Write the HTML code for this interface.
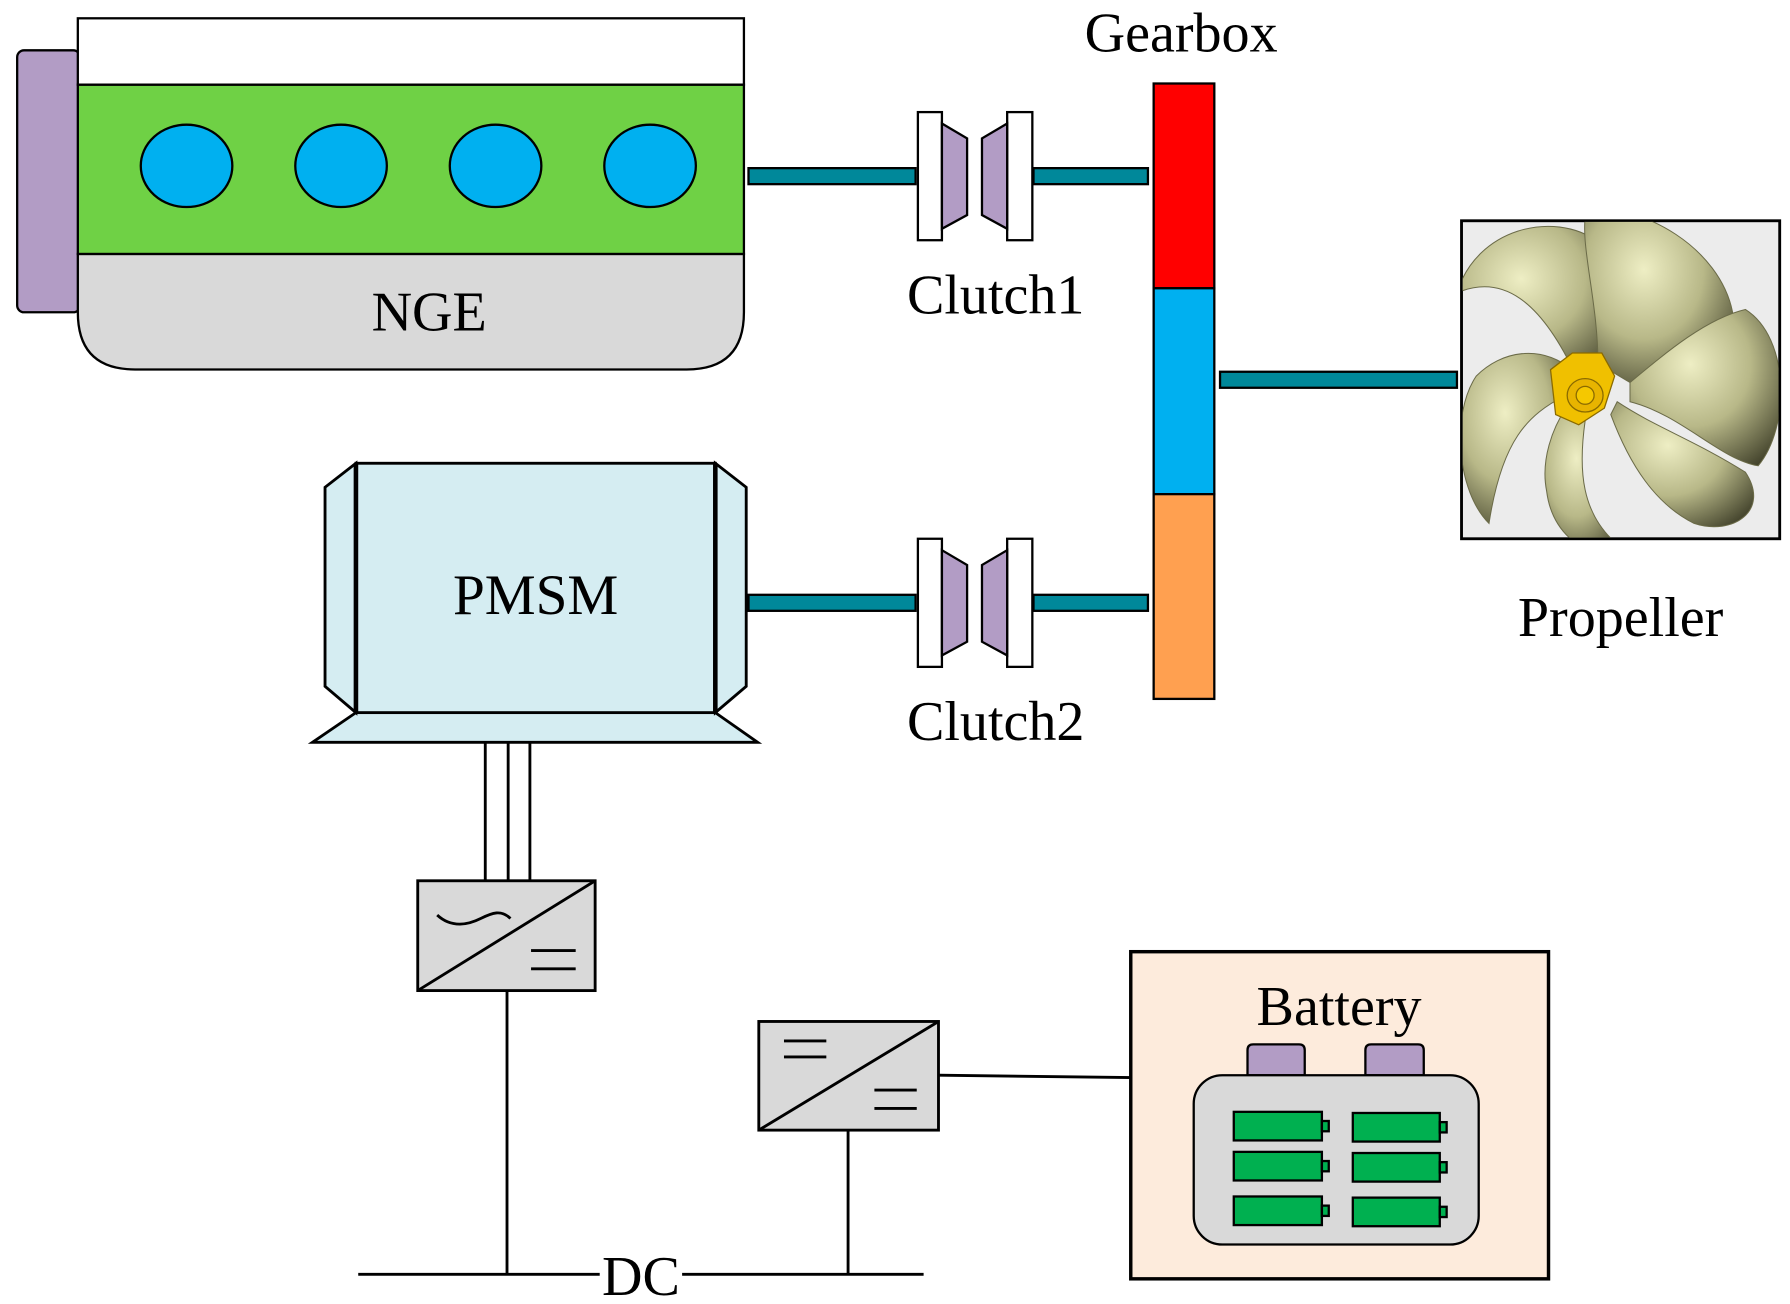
<!DOCTYPE html>
<html><head><meta charset="utf-8"><style>html,body{margin:0;padding:0;background:#fff}svg{display:block}</style></head>
<body>
<svg width="1790" height="1304" viewBox="0 0 1564 1140" preserveAspectRatio="none" xmlns="http://www.w3.org/2000/svg" font-family="Liberation Serif, serif">
<defs>
<radialGradient id="bl" cx="0.4" cy="0.35" r="0.8"><stop offset="0" stop-color="#eeeec4"/><stop offset="0.5" stop-color="#b8b888"/><stop offset="1" stop-color="#3e3e28"/></radialGradient>
<clipPath id="pc"><rect x="1278" y="194" width="276" height="276"/></clipPath>
</defs>
<!-- NGE -->
<rect x="15" y="44" width="55" height="229" rx="6" fill="#b29cc5" stroke="#000" stroke-width="2"/>
<path d="M68 222 H650 V273 Q650 323 600 323 H118 Q68 323 68 273 Z" fill="#d9d9d9" stroke="#000" stroke-width="2"/>
<rect x="68" y="74" width="582" height="148" fill="#6fd145" stroke="#000" stroke-width="2"/>
<rect x="68" y="16" width="582" height="58" fill="#fff" stroke="#000" stroke-width="2"/>
<g fill="#00b0f0" stroke="#000" stroke-width="2">
<ellipse cx="163" cy="145" rx="40" ry="36"/><ellipse cx="298" cy="145" rx="40" ry="36"/><ellipse cx="433" cy="145" rx="40" ry="36"/><ellipse cx="568" cy="145" rx="40" ry="36"/></g>
<text x="375" y="289" font-size="49" text-anchor="middle">NGE</text>
<!-- clutch 1 -->
<g stroke="#000" stroke-width="2">
<rect x="654" y="147" width="146" height="14" fill="#00889a"/>
<rect x="903" y="147" width="100" height="14" fill="#00889a"/>
<rect x="802" y="98" width="21" height="112" fill="#fff"/>
<rect x="880" y="98" width="22" height="112" fill="#fff"/>
<polygon points="823,108 845,121 845,188 823,200" fill="#b29cc5"/>
<polygon points="880,108 858,121 858,188 880,200" fill="#b29cc5"/>
</g>
<text x="870" y="274" font-size="49" text-anchor="middle">Clutch1</text>
<!-- clutch 2 -->
<g stroke="#000" stroke-width="2" transform="translate(0,373)">
<rect x="654" y="147" width="146" height="14" fill="#00889a"/>
<rect x="903" y="147" width="100" height="14" fill="#00889a"/>
<rect x="802" y="98" width="21" height="112" fill="#fff"/>
<rect x="880" y="98" width="22" height="112" fill="#fff"/>
<polygon points="823,108 845,121 845,188 823,200" fill="#b29cc5"/>
<polygon points="880,108 858,121 858,188 880,200" fill="#b29cc5"/>
</g>
<text x="870" y="647" font-size="49" text-anchor="middle">Clutch2</text>
<!-- gearbox -->
<text x="1032" y="45" font-size="49" text-anchor="middle">Gearbox</text>
<g stroke="#000" stroke-width="2">
<rect x="1008" y="73" width="53" height="179" fill="#ff0000"/>
<rect x="1008" y="252" width="53" height="180" fill="#00b0f0"/>
<rect x="1008" y="432" width="53" height="179" fill="#ffa050"/>
<rect x="1066" y="325" width="207" height="14" fill="#00889a"/>
<rect x="1277" y="193" width="278" height="278" fill="#ececec" stroke-width="2.5"/>
</g>
<!-- propeller -->
<g clip-path="url(#pc)">
<g transform="translate(1385,340) scale(1.12) translate(-1385,-340)">
<g fill="url(#bl)" stroke="#6b6b48" stroke-width="0.8">
<path d="M1378 330 C1350 270 1320 250 1285 265 C1300 215 1360 200 1395 225 C1420 250 1410 300 1395 325 Z"/>
<path d="M1395 320 C1395 270 1380 225 1386 200 C1430 195 1490 230 1500 280 C1505 310 1470 325 1420 335 Z"/>
<path d="M1420 335 C1450 310 1480 285 1510 278 C1545 300 1545 370 1520 400 C1490 395 1460 360 1420 350 Z"/>
<path d="M1410 350 C1440 370 1470 380 1510 405 C1530 435 1500 455 1470 445 C1440 430 1420 400 1405 360 Z"/>
<path d="M1385 365 C1380 400 1380 440 1415 465 C1395 475 1360 460 1355 420 C1350 395 1360 370 1370 355 Z"/>
<path d="M1370 345 C1340 360 1320 380 1310 445 C1285 420 1280 360 1300 330 C1320 310 1350 305 1375 325 Z"/>
</g>
<g stroke="#8a6a00" stroke-width="1">
<path d="M1358 325 L1375 312 L1398 312 L1408 330 L1400 355 L1380 368 L1362 360 Z" fill="#f0c000"/>
<ellipse cx="1385" cy="345" rx="14" ry="13" fill="#e8b400"/>
<ellipse cx="1385" cy="345" rx="7" ry="7" fill="#f5c800"/>
</g>
</g>
</g>
<text x="1416" y="556" font-size="49" text-anchor="middle">Propeller</text>
<!-- PMSM -->
<g stroke="#000" stroke-width="2.5" fill="#d5edf2">
<polygon points="311,623 273,649 662,649 625,623"/>
<polygon points="311,405 284,426 284,600 311,623"/>
<polygon points="625,405 652,426 652,600 625,623"/>
<rect x="311" y="405" width="314" height="218"/>
<line x1="311" y1="405" x2="311" y2="623" stroke-width="4"/>
<line x1="625" y1="405" x2="625" y2="623" stroke-width="4"/>
</g>
<text x="468" y="537" font-size="50" text-anchor="middle">PMSM</text>
<g stroke="#000" stroke-width="2.5" fill="none">
<line x1="424" y1="649" x2="424" y2="770"/><line x1="444" y1="649" x2="444" y2="770"/><line x1="463" y1="649" x2="463" y2="770"/>
<rect x="365" y="770" width="155" height="96" fill="#d9d9d9"/>
<line x1="365" y1="866" x2="520" y2="770"/>
<path d="M382 800 C395 812 410 808 420 803 C430 798 438 795 446 803"/>
<line x1="464" y1="831" x2="503" y2="831"/><line x1="464" y1="847" x2="503" y2="847"/>
<line x1="443" y1="866" x2="443" y2="1113"/>
<rect x="663" y="893" width="157" height="95" fill="#d9d9d9"/>
<line x1="663" y1="988" x2="820" y2="893"/>
<line x1="685" y1="910" x2="722" y2="910"/><line x1="685" y1="924" x2="722" y2="924"/>
<line x1="764" y1="953" x2="801" y2="953"/><line x1="764" y1="969" x2="801" y2="969"/>
<line x1="741" y1="988" x2="741" y2="1113"/>
<line x1="820" y1="940" x2="988" y2="942"/>
<line x1="313" y1="1114" x2="524" y2="1114"/><line x1="596" y1="1114" x2="807" y2="1114"/>
</g>
<text x="560" y="1132" font-size="49" text-anchor="middle">DC</text>
<!-- battery -->
<rect x="988" y="832" width="365" height="286" fill="#fdebdc" stroke="#000" stroke-width="3"/>
<text x="1170" y="896" font-size="49" text-anchor="middle">Battery</text>
<g stroke="#000" stroke-width="2">
<path d="M1090 940 V918 Q1090 913 1095 913 H1135 Q1140 913 1140 918 V940 Z" fill="#b29cc5"/>
<path d="M1193 940 V918 Q1193 913 1198 913 H1239 Q1244 913 1244 918 V940 Z" fill="#b29cc5"/>
<rect x="1043" y="940" width="249" height="148" rx="25" fill="#d9d9d9"/>
<g fill="#00b050">
<rect x="1078" y="972" width="77" height="25"/><rect x="1155" y="980" width="6" height="9"/>
<rect x="1078" y="1007" width="77" height="25"/><rect x="1155" y="1015" width="6" height="9"/>
<rect x="1078" y="1046" width="77" height="25"/><rect x="1155" y="1054" width="6" height="9"/>
<rect x="1182" y="973" width="76" height="25"/><rect x="1258" y="981" width="6" height="9"/>
<rect x="1182" y="1008" width="76" height="25"/><rect x="1258" y="1016" width="6" height="9"/>
<rect x="1182" y="1047" width="76" height="25"/><rect x="1258" y="1055" width="6" height="9"/>
</g></g>
</svg>
</body></html>
